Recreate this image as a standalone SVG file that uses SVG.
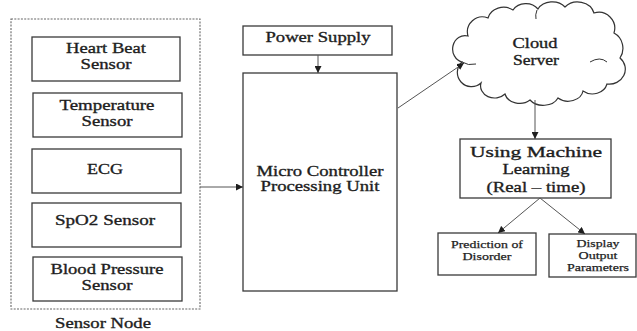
<svg xmlns="http://www.w3.org/2000/svg" width="637" height="331" viewBox="0 0 637 331">
<style>
.box{fill:#fff;stroke:#3a3a3a;stroke-width:1.3}
.t{font-family:'Liberation Serif','Times New Roman',serif;font-size:15px;fill:#1e1e1e;stroke:#1e1e1e;stroke-width:0.35;text-anchor:middle}
.s{font-size:11px;stroke-width:0.25}
.c{fill:none;stroke:#555;stroke-width:1}
</style>
<defs>
<marker id="ah" viewBox="0 0 10 10" refX="10" refY="5" markerWidth="7" markerHeight="7" orient="auto" markerUnits="userSpaceOnUse">
<path d="M0,0 L10,5 L0,10 z" fill="#1e1e1e"/>
</marker>
</defs>
<rect width="637" height="331" fill="#fff"/>
<g id="sensor-node">
<rect x="11" y="19" width="189" height="290" fill="none" stroke="#666" stroke-width="1.1" stroke-dasharray="2,1.3"/>
<text class="t" x="103" y="328" textLength="96" lengthAdjust="spacingAndGlyphs">Sensor Node</text>
</g>
<g id="heart-beat">
<rect class="box" x="32" y="37" width="148" height="44"/>
<text class="t" x="106" y="53" textLength="80" lengthAdjust="spacingAndGlyphs">Heart Beat</text>
<text class="t" x="106" y="69" textLength="51" lengthAdjust="spacingAndGlyphs">Sensor</text>
</g>
<g id="temperature">
<rect class="box" x="33" y="93" width="149" height="44"/>
<text class="t" x="107" y="110" textLength="95" lengthAdjust="spacingAndGlyphs">Temperature</text>
<text class="t" x="107" y="126" textLength="51" lengthAdjust="spacingAndGlyphs">Sensor</text>
</g>
<g id="ecg">
<rect class="box" x="32" y="149" width="149" height="44"/>
<text class="t" x="105" y="174" textLength="36" lengthAdjust="spacingAndGlyphs">ECG</text>
</g>
<g id="spo2">
<rect class="box" x="32" y="203" width="149" height="44"/>
<text class="t" x="105" y="225" textLength="100" lengthAdjust="spacingAndGlyphs">SpO2 Sensor</text>
</g>
<g id="blood-pressure">
<rect class="box" x="33" y="257" width="149" height="44"/>
<text class="t" x="107" y="274" textLength="113" lengthAdjust="spacingAndGlyphs">Blood Pressure</text>
<text class="t" x="107" y="290" textLength="51" lengthAdjust="spacingAndGlyphs">Sensor</text>
</g>
<g id="power-supply">
<rect class="box" x="243" y="26" width="149" height="29"/>
<text class="t" x="318" y="42" textLength="105" lengthAdjust="spacingAndGlyphs">Power Supply</text>
</g>
<g id="mcu">
<rect class="box" x="243" y="73" width="154" height="218"/>
<text class="t" x="320" y="176" textLength="127" lengthAdjust="spacingAndGlyphs">Micro Controller</text>
<text class="t" x="320" y="191" textLength="119" lengthAdjust="spacingAndGlyphs">Processing Unit</text>
</g>
<g id="cloud-server">
<path d="M462,62 A12,13 0 0 1 468,36 A15,15 0 0 1 488,18 A16,14 0 0 1 513,10 A15,13 0 0 1 538,9 A16,13 0 0 1 565,7 A17,15 0 0 1 594,13 A16,16 0 0 1 614,33 A16,17 0 0 1 620,58 A16,15 0 0 1 607,84 A15,13 0 0 1 583,91 A15,12 0 0 1 558,98 A16,12 0 0 1 530,100 A15,12 0 0 1 505,94 A14,12 0 0 1 481,83 A14,14 0 0 1 462,62 Z" fill="#fff" stroke="#333" stroke-width="1.2"/>
<path d="M462,62 Q468,66 476,64" fill="none" stroke="#333" stroke-width="1"/>
<path d="M590,62 Q600,56 607,62" fill="none" stroke="#333" stroke-width="1"/>
<path d="M537,10 Q535,15 536,19" fill="none" stroke="#333" stroke-width="1"/>
<text class="t" x="535" y="48" textLength="45" lengthAdjust="spacingAndGlyphs">Cloud</text>
<text class="t" x="536" y="65" textLength="46" lengthAdjust="spacingAndGlyphs">Server</text>
</g>
<g id="machine-learning">
<rect class="box" x="460" y="139" width="151" height="59"/>
<text class="t" x="536" y="157" textLength="132" lengthAdjust="spacingAndGlyphs">Using Machine</text>
<text class="t" x="536" y="174" textLength="67" lengthAdjust="spacingAndGlyphs">Learning</text>
<text class="t" x="536" y="192" textLength="99" lengthAdjust="spacingAndGlyphs">(Real – time)</text>
</g>
<g id="prediction">
<rect class="box" x="438" y="233" width="98" height="42"/>
<text class="t s" x="487" y="248" textLength="72" lengthAdjust="spacingAndGlyphs">Prediction of</text>
<text class="t s" x="487" y="260" textLength="49" lengthAdjust="spacingAndGlyphs">Disorder</text>
</g>
<g id="display">
<rect class="box" x="549" y="234" width="87" height="43"/>
<text class="t s" x="598" y="247" textLength="43" lengthAdjust="spacingAndGlyphs">Display</text>
<text class="t s" x="598" y="259" textLength="39" lengthAdjust="spacingAndGlyphs">Output</text>
<text class="t s" x="598" y="271" textLength="62" lengthAdjust="spacingAndGlyphs">Parameters</text>
</g>
<g id="connectors">
<line class="c" x1="200" y1="187" x2="243" y2="187" marker-end="url(#ah)"/>
<line class="c" x1="318" y1="55" x2="318" y2="73" marker-end="url(#ah)"/>
<line class="c" x1="398" y1="108" x2="464" y2="63" marker-end="url(#ah)"/>
<line class="c" x1="535" y1="100" x2="535" y2="139" marker-end="url(#ah)"/>
<line class="c" x1="540" y1="198" x2="498" y2="233" marker-end="url(#ah)"/>
<line class="c" x1="540" y1="198" x2="585" y2="234" marker-end="url(#ah)"/>
</g>
</svg>
